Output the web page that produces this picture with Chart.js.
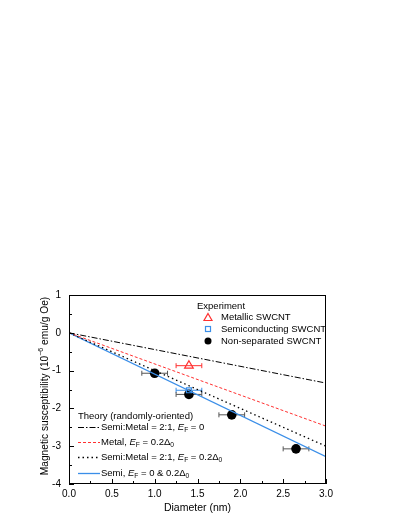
<!DOCTYPE html>
<html>
<head>
<title>Magnetic susceptibility</title>
<script src="https://cdn.jsdelivr.net/npm/chart.js@4.4.0/dist/chart.umd.min.js"></script>
<style>
  body { margin: 0; background: #fff; }
  #wrap { width: 409px; height: 529px; }
</style>
</head>
<body>
<div id="wrap"><canvas id="myChart" width="409" height="529"></canvas></div>
<script>
// theory lines: value at diameter 0 and 3.0 nm
const theoryX = [0, 3.0];
const semiMetalEF0 = [0, -1.33];
const metalEF02 = [0, -2.47];
const semiMetalEF02 = [0, -3.0];
const semiBoth = [0, -3.28];

// experiment
const metallicX = [1.4];
const metallicY = [-0.87];
const metallicErr = [0.15];
const semiX = [1.4];
const semiY = [-1.52];
const semiErr = [0.15];
const nonSepX = [1.0, 1.4, 1.9, 2.65];
const nonSepY = [-1.07, -1.63, -2.17, -3.07];
const nonSepErr = [0.15, 0.15, 0.15, 0.15];

const xTicks = [0, 0.5, 1.0, 1.5, 2.0, 2.5, 3.0];
const yTicks = [1, 0, -1, -2, -3, -4];

const FONT = '"Liberation Sans", Arial, sans-serif';

function pts(xs, ys) {
    return xs.map((x, i) => ({ x: x, y: ys[i] }));
}

function lineSet(ys, color, dash, width) {
    return {
        data: pts(theoryX, ys),
        showLine: true,
        borderColor: color,
        borderWidth: width,
        borderDash: dash,
        pointRadius: 0,
        fill: false
    };
}

const errs = [metallicErr, semiErr, nonSepErr];
const errColors = ['#ff3030', '#3a8ee8', '#555555'];

// draw rich text: segments [{t, it, sub}]
function richText(ctx, x, y, segs, size) {
    segs.forEach(s => {
        let fs = s.sub ? size * 0.7 : size;
        ctx.font = (s.it ? 'italic ' : '') + fs + 'px ' + FONT;
        ctx.fillText(s.t, x, y + (s.sub ? size * 0.3 : 0));
        x += ctx.measureText(s.t).width;
    });
}

const extras = {
    id: 'extras',
    beforeDatasetsDraw(chart) {
        const ctx = chart.ctx;
        const xs = chart.scales.x, ys = chart.scales.y;
        ctx.save();
        for (let d = 4; d < 7; d++) {
            const ds = chart.data.datasets[d];
            const err = errs[d - 4];
            ctx.strokeStyle = errColors[d - 4];
            ctx.lineWidth = 1;
            ds.data.forEach((p, i) => {
                const x1 = xs.getPixelForValue(p.x - err[i]);
                const x2 = xs.getPixelForValue(p.x + err[i]);
                const py = ys.getPixelForValue(p.y);
                ctx.beginPath();
                ctx.moveTo(x1, py); ctx.lineTo(x2, py);
                ctx.moveTo(x1, py - 2.5); ctx.lineTo(x1, py + 2.5);
                ctx.moveTo(x2, py - 2.5); ctx.lineTo(x2, py + 2.5);
                ctx.stroke();
            });
        }
        ctx.restore();
    },
    afterDraw(chart) {
        const ctx = chart.ctx;
        const a = chart.chartArea;
        const xs = chart.scales.x, ys = chart.scales.y;
        ctx.save();
        ctx.strokeStyle = '#000';
        ctx.lineWidth = 1;
        ctx.strokeRect(a.left + 0.5, a.top + 0.5, a.right - a.left - 1, a.bottom - a.top - 1);
        // inward ticks
        ctx.beginPath();
        for (let v = 0; v <= 3.0001; v += 0.25) {
            const px = Math.round(xs.getPixelForValue(v)) + 0.5;
            const len = (Math.abs(v * 2 - Math.round(v * 2)) < 0.01) ? 5 : 3;
            ctx.moveTo(px, a.bottom); ctx.lineTo(px, a.bottom - len);
        }
        for (let v = -4; v <= 1.0001; v += 0.5) {
            const py = Math.round(ys.getPixelForValue(v)) + 0.5;
            const len = (Math.abs(v - Math.round(v)) < 0.01) ? 5 : 3;
            ctx.moveTo(a.left, py); ctx.lineTo(a.left + len, py);
        }
        ctx.stroke();

        ctx.fillStyle = '#000';
        ctx.textBaseline = 'middle';
        ctx.textAlign = 'left';
        // experiment legend
        ctx.font = '9.5px ' + FONT;
        ctx.fillText('Experiment', 197, 306);
        const ex = 208;
        ctx.strokeStyle = '#ff3030';
        ctx.lineWidth = 1.2;
        ctx.beginPath();
        ctx.moveTo(ex, 313.5); ctx.lineTo(ex + 4, 320.5); ctx.lineTo(ex - 4, 320.5); ctx.closePath();
        ctx.stroke();
        ctx.strokeStyle = '#3a8ee8';
        ctx.strokeRect(ex - 2.5, 326.5, 5, 5);
        ctx.fillStyle = '#000';
        ctx.beginPath();
        ctx.arc(ex, 341, 3.5, 0, Math.PI * 2);
        ctx.fill();
        ctx.fillText('Metallic SWCNT', 221, 317);
        ctx.fillText('Semiconducting SWCNT', 221, 329);
        ctx.fillText('Non-separated SWCNT', 221, 341);

        // theory legend
        ctx.fillText('Theory (randomly-oriented)', 78, 416);
        const rows = [
            { y: 427, ds: 0, segs: [{ t: 'Semi:Metal = 2:1, ' }, { t: 'E', it: 1 }, { t: 'F', sub: 1 }, { t: ' = 0' }] },
            { y: 442, ds: 1, segs: [{ t: 'Metal, ' }, { t: 'E', it: 1 }, { t: 'F', sub: 1 }, { t: ' = 0.2\u0394' }, { t: '0', sub: 1 }] },
            { y: 457, ds: 2, segs: [{ t: 'Semi:Metal = 2:1, ' }, { t: 'E', it: 1 }, { t: 'F', sub: 1 }, { t: ' = 0.2\u0394' }, { t: '0', sub: 1 }] },
            { y: 473, ds: 3, segs: [{ t: 'Semi, ' }, { t: 'E', it: 1 }, { t: 'F', sub: 1 }, { t: ' = 0 & 0.2\u0394' }, { t: '0', sub: 1 }] }
        ];
        rows.forEach(r => {
            const ds = chart.data.datasets[r.ds];
            ctx.strokeStyle = ds.borderColor;
            ctx.lineWidth = ds.borderWidth;
            ctx.setLineDash(ds.borderDash);
            ctx.beginPath();
            ctx.moveTo(78, r.y + 0.5); ctx.lineTo(100, r.y + 0.5);
            ctx.stroke();
            ctx.setLineDash([]);
            ctx.fillStyle = '#000';
            richText(ctx, 101, r.y, r.segs, 9.5);
        });

        // y title with superscript
        ctx.save();
        ctx.translate(45, 386);
        ctx.rotate(-Math.PI / 2);
        ctx.textAlign = 'left';
        const parts = [['Magnetic susceptibility (10', 10.2, 0], ['\u22126', 7, -4], [' emu/g Oe)', 10.2, 0]];
        let total = 0;
        parts.forEach(p => { ctx.font = p[1] + 'px ' + FONT; total += ctx.measureText(p[0]).width; });
        let tx = -total / 2;
        parts.forEach(p => {
            ctx.font = p[1] + 'px ' + FONT;
            ctx.fillText(p[0], tx, p[2]);
            tx += ctx.measureText(p[0]).width;
        });
        ctx.restore();
        ctx.restore();
    }
};

const ctx = document.getElementById('myChart');
const myChart = new Chart(ctx, {
    type: 'scatter',
    data: {
        datasets: [
            lineSet(semiMetalEF0, '#000000', [6, 2, 1.5, 2], 1),
            lineSet(metalEF02, '#ff3030', [3, 2], 1),
            lineSet(semiMetalEF02, '#000000', [1.5, 3], 1.3),
            lineSet(semiBoth, '#3a8ee8', [], 1.3),
            {
                data: pts(metallicX, metallicY),
                pointStyle: 'triangle',
                pointRadius: 5,
                pointBorderColor: '#ff3030',
                pointBackgroundColor: 'rgba(0,0,0,0)',
                pointBorderWidth: 1.2
            },
            {
                data: pts(semiX, semiY),
                pointStyle: 'rect',
                pointRadius: 3.5,
                pointBorderColor: '#3a8ee8',
                pointBackgroundColor: 'rgba(0,0,0,0)',
                pointBorderWidth: 1.2
            },
            {
                data: pts(nonSepX, nonSepY),
                pointStyle: 'circle',
                pointRadius: 4.8,
                pointBorderColor: '#000',
                pointBackgroundColor: '#000',
                pointBorderWidth: 0
            }
        ]
    },
    options: {
        responsive: false,
        animation: false,
        events: [],
        layout: { padding: { left: 35, top: 295, right: 83, bottom: 11 } },
        plugins: { legend: { display: false }, tooltip: { enabled: false } },
        scales: {
            x: {
                type: 'linear',
                min: 0, max: 3.0,
                afterBuildTicks: s => { s.ticks = xTicks.map(v => ({ value: v })); },
                afterFit: s => { s.height = 34; },
                grid: { display: false, drawTicks: false },
                border: { display: false },
                ticks: {
                    color: '#000', padding: 4,
                    font: { family: FONT, size: 10 },
                    callback: v => v.toFixed(1)
                },
                title: {
                    display: true, text: 'Diameter (nm)', color: '#000',
                    font: { family: FONT, size: 10.5 }, padding: { top: 3 }
                }
            },
            y: {
                type: 'linear',
                min: -4, max: 1,
                afterBuildTicks: s => { s.ticks = yTicks.map(v => ({ value: v })); },
                afterFit: s => { s.width = 34; },
                grid: { display: false, drawTicks: false },
                border: { display: false },
                ticks: {
                    color: '#000', padding: 8,
                    font: { family: FONT, size: 10 }
                }
            }
        }
    },
    plugins: [extras]
});
</script>
</body>
</html>
